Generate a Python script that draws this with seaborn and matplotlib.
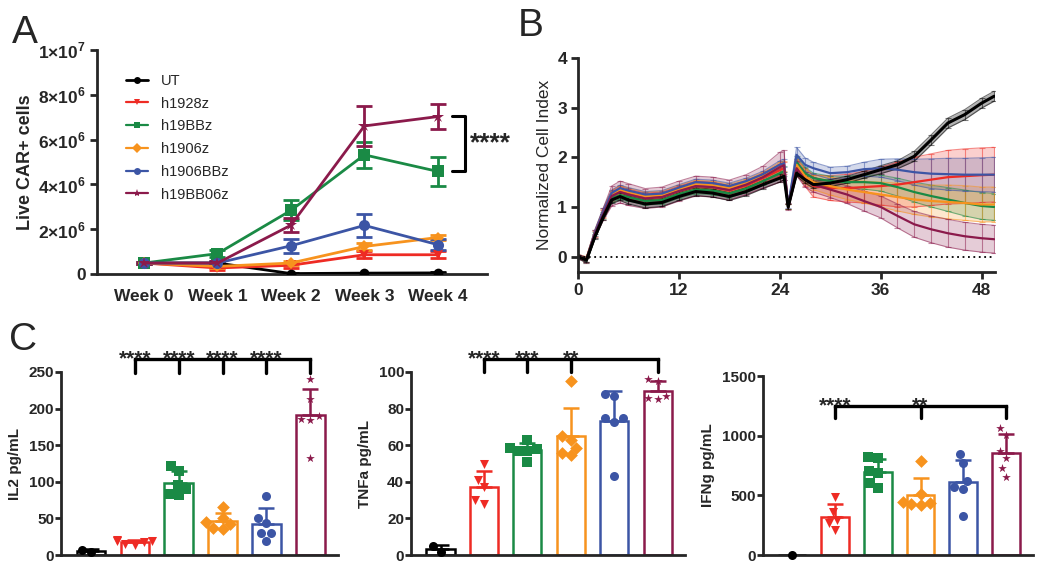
import numpy as np
import pandas as pd
import matplotlib
matplotlib.use("Agg")
import matplotlib.pyplot as plt
from matplotlib.lines import Line2D
import seaborn as sns

sns.set_style("ticks")
plt.rcParams['font.family'] = ['Liberation Sans', 'DejaVu Sans']
plt.rcParams['axes.linewidth'] = 2
plt.rcParams['mathtext.fontset'] = 'custom'
plt.rcParams['mathtext.rm'] = 'Liberation Sans:bold'
plt.rcParams['mathtext.bf'] = 'Liberation Sans:bold'

# ---- groups / style
groups = ["UT", "h1928z", "h19BBz", "h1906z", "h1906BBz", "h19BB06z"]
colors = ["#000000", "#EE2B24", "#1A8A45", "#F7931E", "#3C55A5", "#8B1A4B"]
markers = ["o", "v", "s", "D", "o", "*"]
pal = dict(zip(groups, colors))
mk = dict(zip(groups, markers))

# ---- panel A: live CAR+ cells (mean, SD) per week
weeks = ["Week 0", "Week 1", "Week 2", "Week 3", "Week 4"]
a_mean = {
    "UT":       [0.49e6, 0.49e6, 0.02e6, 0.04e6, 0.05e6],
    "h1928z":   [0.49e6, 0.27e6, 0.39e6, 0.86e6, 0.86e6],
    "h19BBz":   [0.49e6, 0.91e6, 2.84e6, 5.32e6, 4.58e6],
    "h1906z":   [0.49e6, 0.34e6, 0.49e6, 1.23e6, 1.63e6],
    "h1906BBz": [0.49e6, 0.49e6, 1.26e6, 2.17e6, 1.31e6],
    "h19BB06z": [0.49e6, 0.49e6, 2.18e6, 6.61e6, 7.03e6],
}
a_sd = {
    "UT":       [0.05e6, 0.05e6, 0.02e6, 0.02e6, 0.02e6],
    "h1928z":   [0.05e6, 0.08e6, 0.1e6, 0.15e6, 0.15e6],
    "h19BBz":   [0.05e6, 0.15e6, 0.45e6, 0.57e6, 0.65e6],
    "h1906z":   [0.05e6, 0.08e6, 0.1e6, 0.15e6, 0.12e6],
    "h1906BBz": [0.05e6, 0.1e6, 0.3e6, 0.52e6, 0.25e6],
    "h19BB06z": [0.05e6, 0.1e6, 0.3e6, 0.9e6, 0.57e6],
}
a_yticks = [0, 2e6, 4e6, 6e6, 8e6, 1e7]
a_yticklabels = ["0", r"$2{\times}10^{6}$", r"$4{\times}10^{6}$", r"$6{\times}10^{6}$",
                 r"$8{\times}10^{6}$", r"$1{\times}10^{7}$"]

# ---- panel B: normalized cell index over time (mean, SD)
hours = [0, 1, 2, 3, 4, 5, 6, 8, 10, 12, 14, 16, 18, 20, 22, 24, 24.5, 25, 26, 27,
         28, 30, 32, 34, 36, 38, 40, 42, 44, 46, 48, 49.5]
b_mean = {
    "UT":       [0, -0.07, 0.40, 0.80, 1.14, 1.21, 1.14, 1.06, 1.09, 1.21, 1.31, 1.28, 1.21, 1.31, 1.45, 1.58,
                 1.62, 1.0, 1.68, 1.55, 1.45, 1.48, 1.55, 1.65, 1.75, 1.85, 2.02, 2.35, 2.69, 2.86, 3.09, 3.23],
    "h1928z":   [0, -0.06, 0.45, 0.85, 1.22, 1.32, 1.26, 1.18, 1.2, 1.32, 1.42, 1.4, 1.33, 1.43, 1.58, 1.74,
                 1.78, 1.02, 1.82, 1.6, 1.42, 1.38, 1.38, 1.4, 1.42, 1.45, 1.5, 1.55, 1.6, 1.62, 1.64, 1.65],
    "h19BBz":   [0, -0.08, 0.43, 0.82, 1.17, 1.24, 1.2, 1.12, 1.14, 1.26, 1.35, 1.33, 1.27, 1.37, 1.52, 1.68,
                 1.72, 1.0, 1.9, 1.68, 1.58, 1.52, 1.5, 1.5, 1.48, 1.4, 1.3, 1.22, 1.15, 1.08, 1.02, 1.0],
    "h1906z":   [0, -0.05, 0.47, 0.88, 1.25, 1.35, 1.3, 1.22, 1.24, 1.36, 1.46, 1.44, 1.38, 1.48, 1.62, 1.8,
                 1.83, 1.0, 1.85, 1.62, 1.5, 1.42, 1.35, 1.3, 1.25, 1.2, 1.15, 1.12, 1.1, 1.08, 1.05, 1.05],
    "h1906BBz": [0, -0.06, 0.48, 0.9, 1.28, 1.38, 1.33, 1.25, 1.27, 1.39, 1.5, 1.48, 1.42, 1.52, 1.66, 1.85,
                 1.88, 1.02, 2.05, 1.85, 1.78, 1.68, 1.7, 1.76, 1.78, 1.75, 1.7, 1.67, 1.66, 1.65, 1.65, 1.65],
    "h19BB06z": [0, -0.07, 0.45, 0.85, 1.22, 1.3, 1.25, 1.17, 1.2, 1.32, 1.42, 1.4, 1.34, 1.45, 1.6, 1.8,
                 1.84, 1.0, 1.78, 1.55, 1.45, 1.35, 1.25, 1.12, 1.0, 0.82, 0.65, 0.55, 0.47, 0.41, 0.37, 0.35],
}
b_sd = {
    "UT":       [0.03, 0.04, 0.05, 0.06, 0.07, 0.08, 0.08, 0.08, 0.08, 0.08, 0.08, 0.08, 0.08, 0.08, 0.08, 0.08,
                 0.08, 0.05, 0.06, 0.07, 0.07, 0.07, 0.07, 0.07, 0.08, 0.08, 0.1, 0.1, 0.1, 0.1, 0.1, 0.1],
    "h1928z":   [0.04, 0.05, 0.06, 0.08, 0.1, 0.1, 0.1, 0.1, 0.1, 0.1, 0.1, 0.1, 0.1, 0.1, 0.1, 0.12,
                 0.12, 0.06, 0.15, 0.18, 0.22, 0.25, 0.28, 0.32, 0.38, 0.45, 0.5, 0.52, 0.54, 0.55, 0.55, 0.55],
    "h19BBz":   [0.04, 0.05, 0.06, 0.07, 0.08, 0.08, 0.08, 0.08, 0.08, 0.08, 0.08, 0.08, 0.08, 0.08, 0.08, 0.1,
                 0.1, 0.05, 0.12, 0.12, 0.1, 0.1, 0.12, 0.14, 0.16, 0.18, 0.2, 0.22, 0.24, 0.26, 0.27, 0.27],
    "h1906z":   [0.04, 0.05, 0.06, 0.08, 0.08, 0.08, 0.08, 0.08, 0.08, 0.08, 0.08, 0.08, 0.08, 0.08, 0.08, 0.1,
                 0.1, 0.05, 0.12, 0.14, 0.15, 0.18, 0.2, 0.22, 0.25, 0.28, 0.3, 0.32, 0.34, 0.35, 0.35, 0.35],
    "h1906BBz": [0.04, 0.05, 0.06, 0.08, 0.06, 0.06, 0.06, 0.06, 0.06, 0.06, 0.06, 0.06, 0.06, 0.06, 0.06, 0.08,
                 0.08, 0.05, 0.15, 0.14, 0.12, 0.12, 0.12, 0.14, 0.18, 0.22, 0.26, 0.3, 0.32, 0.33, 0.34, 0.35],
    "h19BB06z": [0.04, 0.05, 0.08, 0.12, 0.2, 0.22, 0.22, 0.2, 0.2, 0.2, 0.2, 0.2, 0.2, 0.2, 0.22, 0.3,
                 0.3, 0.06, 0.15, 0.15, 0.15, 0.16, 0.18, 0.2, 0.22, 0.24, 0.26, 0.27, 0.28, 0.28, 0.28, 0.28],
}

# ---- panel C: cytokines, individual replicates (pg/mL)
il2 = {
    "UT": [3.5, 7.0],
    "h1928z": [20, 19, 18, 15, 14, 19],
    "h19BBz": [122, 115, 96, 90, 82, 84],
    "h1906z": [66, 45, 42, 35, 37, 51],
    "h1906BBz": [80, 50, 44, 30, 29.5, 19.5],
    "h19BB06z": [241, 213, 186, 185, 190, 133],
}
tnfa = {
    "UT": [1.8, 4.9],
    "h1928z": [50, 41, 37, 30, 28],
    "h19BBz": [58.4, 57.8, 63, 51, 57, 56.6],
    "h1906z": [94.9, 64.8, 63, 58.4, 56, 54.4],
    "h1906BBz": [86.7, 88, 74.6, 72.9, 74.6, 43.4],
    "h19BB06z": [96, 95, 86, 85, 87],
}
ifng = {
    "UT": [0],
    "h1928z": [483, 360, 293, 265, 209],
    "h19BBz": [810, 824, 707, 684, 600, 559],
    "h1906z": [785, 510, 420, 440, 425, 445],
    "h1906BBz": [846, 774, 620, 550, 573, 327],
    "h19BB06z": [1061, 1006, 872, 816, 726, 656],
}

fig = plt.figure(figsize=(10.49, 5.77), dpi=100)

def style_ticks(ax, size, length=5, pad=3):
    ax.tick_params(width=2, length=length, labelsize=size, pad=pad)
    for lab in ax.get_xticklabels() + ax.get_yticklabels():
        lab.set_fontweight("bold")

# ================= Panel A
axA = fig.add_axes([0.0925, 0.5251, 0.3718, 0.3882])
dfA = pd.DataFrame([(g, i, a_mean[g][i], a_sd[g][i]) for g in groups for i in range(len(weeks))],
                   columns=["group", "week", "cells", "sd"])
for g in groups:
    sub = dfA[dfA.group == g]
    axA.errorbar(sub.week, sub.cells, yerr=sub.sd, fmt="none", ecolor=pal[g],
                 elinewidth=2, capsize=6, capthick=2, zorder=2)
sizesA = {"UT": 7, "h1928z": 7, "h19BBz": 9, "h1906z": 6, "h1906BBz": 8, "h19BB06z": 9}
for g in groups:
    sub = dfA[dfA.group == g]
    sns.lineplot(data=sub, x="week", y="cells", color=pal[g], marker=mk[g], markersize=sizesA[g],
                 markeredgewidth=0, linewidth=2, ax=axA, zorder=3, legend=False)
axA.set_xlim(-0.64, 4.67)
axA.set_ylim(0, 1e7)
axA.set_xticks(range(len(weeks)))
axA.set_xticklabels(weeks)
axA.set_yticks(a_yticks)
axA.set_yticklabels(a_yticklabels)
axA.set_xlabel("")
axA.set_ylabel("Live CAR+ cells", fontsize=13, fontweight="bold", labelpad=3)
sns.despine(ax=axA)
style_ticks(axA, 12.5, length=5, pad=3)
axA.tick_params(axis="x", pad=11, length=0)
handles = [Line2D([], [], color=pal[g], marker=mk[g], markersize=5 if mk[g] != "*" else 6,
                  markeredgewidth=0, lw=1.6 if g != "UT" else 2) for g in groups]
axA.legend(handles, groups, loc="upper left", bbox_to_anchor=(0.06, 0.92), frameon=False,
           fontsize=10.5, handlelength=1.5, labelspacing=0.6, handletextpad=0.9,
           borderaxespad=0)
# bracket
axA.plot([4.19, 4.37, 4.37, 4.19], [7.05e6, 7.05e6, 4.6e6, 4.6e6], color="black", lw=2.2,
         clip_on=False)
axA.text(4.44, 5.83e6, "****", fontsize=19, fontweight="bold", ha="left", va="center")
fig.text(0.011, 0.925, "A", fontsize=28)

# ================= Panel B
axB = fig.add_axes([0.551, 0.5286, 0.3975, 0.3709])
dfB = pd.DataFrame([(g, hours[i], b_mean[g][i], b_sd[g][i]) for g in groups for i in range(len(hours))],
                   columns=["group", "hour", "nci", "sd"])
draw_order = groups[1:] + ["UT"]
for g in draw_order:
    sub = dfB[dfB.group == g]
    lo, hi = sub.nci - sub.sd, sub.nci + sub.sd
    axB.fill_between(sub.hour, lo, hi, color=pal[g], alpha=0.22 if g != "UT" else 0.3, lw=0)
    axB.errorbar(sub.hour, sub.nci, yerr=sub.sd, fmt="none", ecolor=pal[g], alpha=0.5,
                 elinewidth=0.8, capsize=2.5, capthick=0.8)
    axB.plot(sub.hour, hi, color=pal[g], lw=0.8, alpha=0.55)
    axB.plot(sub.hour, lo, color=pal[g], lw=0.8, alpha=0.55)
sns.lineplot(data=dfB[dfB.group != "UT"], x="hour", y="nci", hue="group", hue_order=groups[1:],
             palette=pal, linewidth=1.6, legend=False, ax=axB)
sns.lineplot(data=dfB[dfB.group == "UT"], x="hour", y="nci", color="black", linewidth=2.2,
             legend=False, ax=axB)
axB.plot([0, 49.5], [0, 0], color="black", lw=1.3, ls=(0, (1, 2)))
axB.set_xlim(0, 49.6)
axB.set_ylim(-0.31, 4)
axB.set_xticks([0, 12, 24, 36, 48])
axB.set_yticks([0, 1, 2, 3, 4])
axB.set_xlabel("")
axB.set_ylabel("Normalized Cell Index", fontsize=12.5, labelpad=4)
sns.despine(ax=axB)
style_ticks(axB, 12.5)
fig.text(0.494, 0.937, "B", fontsize=28)

# ================= Panel C
def bar_panel(rect, data, ylim, yticks, ylabel, brackets):
    ax = fig.add_axes(rect)
    df = pd.DataFrame([(g, v) for g in groups for v in data[g]], columns=["group", "val"])
    stats = df.groupby("group")["val"].agg(["mean", "std"]).reindex(groups).fillna(0)
    sns.barplot(data=df, x="group", y="val", hue="group", order=groups, hue_order=groups,
                palette=pal, fill=False, errorbar=None, width=0.65, linewidth=1.8,
                legend=False, ax=ax)
    for i, g in enumerate(groups):
        m, s = stats.loc[g, "mean"], stats.loc[g, "std"]
        if m > 0:
            ax.errorbar([i], [m], yerr=[[0], [s]], fmt="none", ecolor=pal[g],
                        elinewidth=1.8, capsize=6, capthick=1.8, zorder=2)
        sub = df[df.group == g]
        sns.swarmplot(data=sub, x="group", y="val", order=groups, color=pal[g], marker=mk[g],
                      size=6.5, linewidth=0, ax=ax, zorder=3, clip_on=False)
    ax.set_xlim(-0.68, 5.63)
    ax.set_ylim(*ylim)
    ax.set_yticks(yticks)
    ax.set_xticks([])
    ax.set_xlabel("")
    ax.set_ylabel(ylabel, fontsize=11, fontweight="bold", labelpad=5)
    sns.despine(ax=ax)
    style_ticks(ax, 11, length=4, pad=1)
    # significance brackets
    y_top, y_tick, ticks, stars = brackets
    ax.plot([ticks[0], ticks[-1]], [y_top, y_top], color="black", lw=2.4, clip_on=False,
            solid_capstyle="projecting")
    for x in ticks:
        ax.plot([x, x], [y_top, y_tick], color="black", lw=2.4, clip_on=False)
    for x, st in zip(ticks, stars):
        if st:
            ax.annotate(st, xy=(x, y_top), xytext=(0, -4), textcoords="offset points",
                        ha="center", va="baseline", fontsize=15, fontweight="bold",
                        annotation_clip=False)
    return ax

bar_panel([0.0582, 0.0381, 0.2640, 0.3172], il2, (0, 250), [0, 50, 100, 150, 200, 250],
          "IL2 pg/mL", (268, 249, [1, 2, 3, 4, 5], ["****", "****", "****", "****", ""]))
bar_panel([0.3918, 0.0381, 0.2612, 0.3172], tnfa, (0, 100), [0, 20, 40, 60, 80, 100],
          "TNFa pg/mL", (107, 100, [1, 2, 3, 5], ["****", "***", "**", ""]))
bar_panel([0.7274, 0.0381, 0.2574, 0.3102], ifng, (0, 1500), [0, 500, 1000, 1500],
          "IFNg pg/mL", (1249, 1148, [1, 3, 5], ["****", "**", ""]))
fig.text(0.009, 0.393, "C", fontsize=28)

fig.savefig("out.png", dpi=100)
